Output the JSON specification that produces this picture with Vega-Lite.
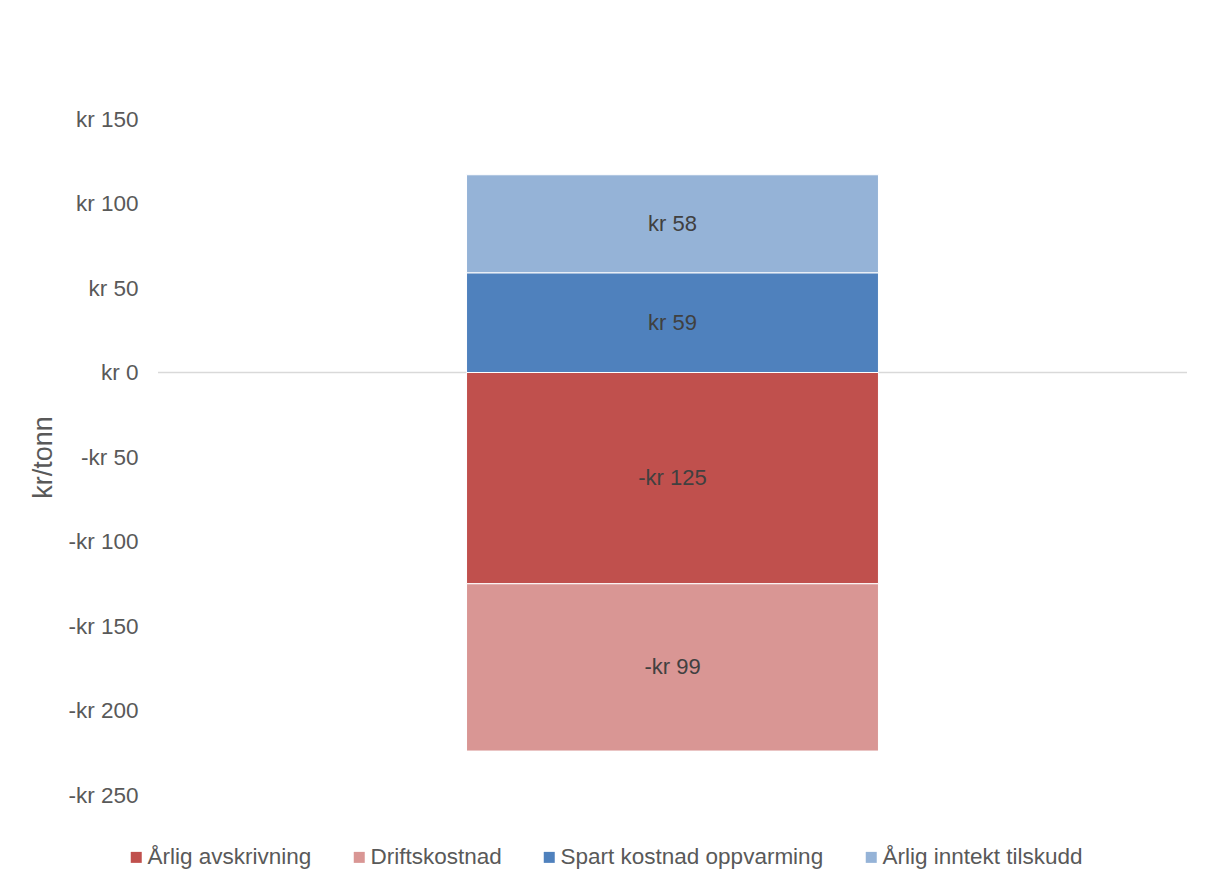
{
  "$schema": "https://vega.github.io/schema/vega-lite/v6.json",
  "width": 1029,
  "height": 676,
  "autosize": {"type": "none"},
  "padding": {"left": 158, "top": 119, "right": 31, "bottom": 96},
  "background": "white",
  "config": {"view": {"stroke": null}, "font": "Liberation Sans"},
  "data": {
    "values": [
      {"kategori": "Kostnad", "serie": "Årlig avskrivning", "verdi": -125, "rekkefolge": 1},
      {"kategori": "Kostnad", "serie": "Driftskostnad", "verdi": -99, "rekkefolge": 2},
      {"kategori": "Kostnad", "serie": "Spart kostnad oppvarming", "verdi": 59, "rekkefolge": 3},
      {"kategori": "Kostnad", "serie": "Årlig inntekt tilskudd", "verdi": 58, "rekkefolge": 4}
    ]
  },
  "layer": [
    {
      "data": {"values": [{"null": 0}]},
      "mark": {"type": "rule", "color": "#d9d9d9", "strokeWidth": 1.5},
      "encoding": {
        "y": {
          "field": "null", "type": "quantitative",
          "scale": {"domain": [-250, 150], "nice": false},
          "axis": {
            "title": "kr/tonn",
            "values": [-250, -200, -150, -100, -50, 0, 50, 100, 150],
            "labelExpr": "datum.value < 0 ? '-kr ' + abs(datum.value) : 'kr ' + datum.value",
            "domain": false, "ticks": false, "grid": false,
            "labelFontSize": 22.5, "labelColor": "#595959", "labelPadding": 20,
            "titleFontSize": 27, "titleFontWeight": "normal", "titleColor": "#595959", "titlePadding": 10
          }
        }
      }
    },
    {
      "mark": {"type": "bar", "stroke": "white", "strokeWidth": 1},
      "encoding": {
        "x": {"field": "kategori", "type": "nominal", "axis": null, "scale": {"paddingInner": 0, "paddingOuter": 0.749}},
        "y": {"field": "verdi", "type": "quantitative", "stack": "zero"},
        "color": {
          "field": "serie", "type": "nominal",
          "scale": {
            "domain": ["Årlig avskrivning", "Driftskostnad", "Spart kostnad oppvarming", "Årlig inntekt tilskudd"],
            "range": ["#C0504D", "#D99694", "#4F81BD", "#95B3D7"]
          },
          "legend": {
            "title": null, "orient": "none", "direction": "horizontal",
            "legendX": -33, "legendY": 727,
            "symbolType": "square", "symbolSize": 121, "symbolStrokeWidth": 0,
            "labelFontSize": 22.5, "labelColor": "#595959", "labelOffset": 0, "labelLimit": 0, "columnPadding": 36
          }
        },
        "order": {"field": "rekkefolge"}
      }
    },
    {
      "transform": [
        {"stack": "verdi", "groupby": ["kategori"], "sort": [{"field": "rekkefolge"}], "as": ["y0", "y1"]},
        {"calculate": "(datum.y0 + datum.y1) / 2", "as": "midt"},
        {"calculate": "datum.verdi < 0 ? '-kr ' + abs(datum.verdi) : 'kr ' + datum.verdi", "as": "etikett"}
      ],
      "mark": {"type": "text", "fontSize": 22, "color": "#404040"},
      "encoding": {
        "x": {"field": "kategori", "type": "nominal", "axis": null},
        "y": {"field": "midt", "type": "quantitative"},
        "text": {"field": "etikett"}
      }
    }
  ]
}
